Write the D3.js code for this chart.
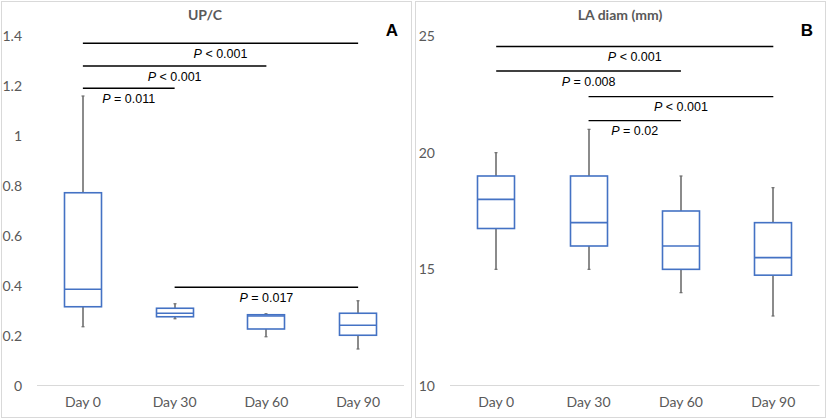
<!DOCTYPE html>
<html><head><meta charset="utf-8">
<script src="https://cdn.jsdelivr.net/npm/d3@7"></script>
<style>body{margin:0;background:#fff}</style>
</head><body>
<svg id="c" width="827" height="419"></svg>
<script>
const categories = ["Day 0", "Day 30", "Day 60", "Day 90"];

// Panel A: UP/C  [min, q1, median, q3, max]
const upcMin = [0.237, 0.269, 0.197, 0.148];
const upcQ1 = [0.317, 0.277, 0.228, 0.203];
const upcMed = [0.387, 0.291, 0.280, 0.243];
const upcQ3 = [0.773, 0.311, 0.285, 0.291];
const upcMax = [1.16, 0.329, 0.289, 0.341];
const upcTicks = [0, 0.2, 0.4, 0.6, 0.8, 1, 1.2, 1.4];
const upcSigFrom = [0, 0, 0, 1];
const upcSigTo = [3, 2, 1, 3];
const upcSigY = [1.371, 1.28, 1.191, 0.395];
const upcSigOp = ["<", "<", "=", "="];
const upcSigP = ["0.001", "0.001", "0.011", "0.017"];

// Panel B: LA diam (mm)
const laMin = [15, 15, 14, 13];
const laQ1 = [16.75, 16, 15, 14.75];
const laMed = [18, 17, 16, 15.5];
const laQ3 = [19, 19, 17.5, 17];
const laMax = [20, 21, 19, 18.5];
const laTicks = [10, 15, 20, 25];
const laSigFrom = [0, 0, 1, 1];
const laSigTo = [3, 2, 3, 2];
const laSigY = [24.55, 23.5, 22.4, 21.37];
const laSigOp = ["<", "=", "<", "="];
const laSigP = ["0.001", "0.008", "0.001", "0.02"];

const svg = d3.select("#c");
const labelFont = "Lato, 'Open Sans', sans-serif";
const gray = "#595959";

function panel(o) {
  const g = svg.append("g");
  g.append("rect").attr("x", o.px + 0.5).attr("y", 1.5).attr("width", o.pw).attr("height", 416)
    .attr("fill", "#fff").attr("stroke", "#d9d9d9").attr("stroke-width", 1);

  const x = d3.scaleBand().domain(categories).range([o.x0, o.x1]).paddingInner(0).paddingOuter(0);
  const y = d3.scaleLinear().domain(o.domain).range([386, 36]);

  g.append("line").attr("x1", o.x0).attr("x2", o.x1).attr("y1", y(o.domain[0]) - 0.5).attr("y2", y(o.domain[0]) - 0.5)
    .attr("stroke", "#d9d9d9").attr("stroke-width", 1);

  const ya = d3.axisLeft(y).tickValues(o.ticks).tickSize(0).tickPadding(0).tickFormat(d => String(d));
  const yg = g.append("g").attr("transform", `translate(${o.tickX},0)`).call(ya);
  yg.select(".domain").remove();
  yg.selectAll("text").attr("font-family", labelFont).attr("font-size", 14).attr("fill", gray);

  const xa = d3.axisBottom(x).tickSize(0).tickPadding(0);
  const xg = g.append("g").attr("transform", `translate(0,397.5)`).call(xa);
  xg.select(".domain").remove();
  xg.selectAll("text").attr("font-family", labelFont).attr("font-size", 14).attr("fill", gray).attr("dy", "0.71em");

  const cx = d => x(d) + x.bandwidth() / 2;
  const bw = 37;
  const bx = g.append("g");
  categories.forEach((c, i) => {
    const xc = Math.round(cx(c));
    bx.append("line").attr("x1", xc).attr("x2", xc).attr("y1", y(o.max[i])).attr("y2", y(o.q3[i]))
      .attr("stroke", "#6e6e6e").attr("stroke-width", 1.6);
    bx.append("line").attr("x1", xc).attr("x2", xc).attr("y1", y(o.q1[i])).attr("y2", y(o.min[i]))
      .attr("stroke", "#6e6e6e").attr("stroke-width", 1.6);
    [o.max[i], o.min[i]].forEach(v => {
      bx.append("line").attr("x1", xc - 1.5).attr("x2", xc + 1.5).attr("y1", y(v)).attr("y2", y(v))
        .attr("stroke", "#6e6e6e").attr("stroke-width", 1.2);
    });
    bx.append("rect").attr("x", xc - bw / 2).attr("y", y(o.q3[i])).attr("width", bw)
      .attr("height", y(o.q1[i]) - y(o.q3[i])).attr("fill", "#fff").attr("stroke", "#4472C4").attr("stroke-width", 1.6);
    bx.append("line").attr("x1", xc - bw / 2).attr("x2", xc + bw / 2).attr("y1", y(o.med[i])).attr("y2", y(o.med[i]))
      .attr("stroke", "#4472C4").attr("stroke-width", 1.6);
  });

  o.sigFrom.forEach((f, i) => {
    const xa1 = cx(categories[f]), xa2 = cx(categories[o.sigTo[i]]);
    const yy = y(o.sigY[i]);
    g.append("line").attr("x1", xa1).attr("x2", xa2).attr("y1", yy).attr("y2", yy)
      .attr("stroke", "#000").attr("stroke-width", 1.3);
    const t = g.append("text").attr("x", (xa1 + xa2) / 2).attr("y", yy + 14.5)
      .attr("text-anchor", "middle").attr("font-family", "'Liberation Sans', Arial, sans-serif")
      .attr("font-size", 12.5).attr("fill", "#000");
    t.append("tspan").attr("font-style", "italic").text("P");
    t.append("tspan").text(` ${o.sigOp[i]} ${o.sigP[i]}`);
  });

  g.append("text").attr("x", o.titleX).attr("y", 20).attr("text-anchor", "middle")
    .attr("font-family", labelFont).attr("font-weight", "bold").attr("font-size", 14).attr("fill", gray).text(o.title);
  g.append("text").attr("x", o.letterX).attr("y", 36).attr("text-anchor", "middle")
    .attr("font-family", "'Liberation Sans', Arial, sans-serif").attr("font-weight", "bold").attr("font-size", 17)
    .attr("fill", "#000").text(o.letter);
}

panel({ px: 1, pw: 410, x0: 37, x1: 404, domain: [0, 1.4], ticks: upcTicks, tickX: 22,
  min: upcMin, q1: upcQ1, med: upcMed, q3: upcQ3, max: upcMax,
  sigFrom: upcSigFrom, sigTo: upcSigTo, sigY: upcSigY, sigOp: upcSigOp, sigP: upcSigP,
  title: "UP/C", titleX: 205, letter: "A", letterX: 392 });

panel({ px: 415, pw: 410, x0: 450, x1: 819.5, domain: [10, 25], ticks: laTicks, tickX: 435,
  min: laMin, q1: laQ1, med: laMed, q3: laQ3, max: laMax,
  sigFrom: laSigFrom, sigTo: laSigTo, sigY: laSigY, sigOp: laSigOp, sigP: laSigP,
  title: "LA diam (mm)", titleX: 620, letter: "B", letterX: 807 });
</script>
</body></html>
